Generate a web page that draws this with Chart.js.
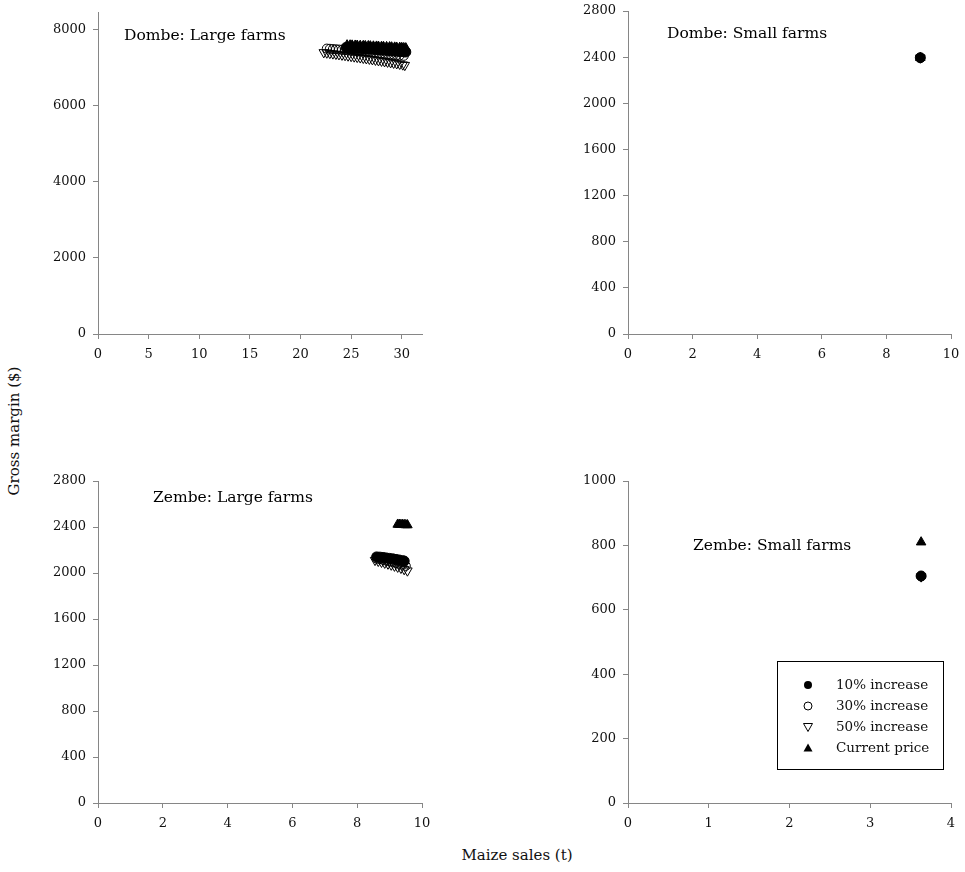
<!DOCTYPE html>
<html>
<head>
<meta charset="utf-8">
<script src="https://cdn.jsdelivr.net/npm/chart.js@4.4.1/dist/chart.umd.min.js"></script>
<style>
  html, body { margin: 0; padding: 0; background: #fff; }
  body { position: relative; width: 965px; height: 872px; overflow: hidden; font-family: "DejaVu Serif", serif; }
  canvas { position: absolute; }
  .axis-title { position: absolute; font-size: 15px; color: #111; white-space: nowrap; }
  #yTitle { left: 14px; top: 431px; transform: translate(-50%, -50%) rotate(-90deg); }
  #xTitle { left: 517px; top: 855px; transform: translate(-50%, -50%); }
</style>
</head>
<body>
<canvas id="dombeLarge" width="394" height="377" style="left:48px;top:-3px"></canvas>
<canvas id="dombeSmall" width="393" height="378" style="left:578px;top:-4px"></canvas>
<canvas id="zembeLarge" width="394" height="377" style="left:48px;top:466px"></canvas>
<canvas id="zembeSmall" width="393" height="377" style="left:578px;top:466px"></canvas>
<div class="axis-title" id="yTitle">Gross margin ($)</div>
<div class="axis-title" id="xTitle">Maize sales (t)</div>
<script>
// Series names (legend order)
const seriesNames = ['10% increase', '30% increase', '50% increase', 'Current price'];

// Axis ticks per panel
const dombeLargeSalesTicks = [0, 5, 10, 15, 20, 25, 30];
const dombeLargeMarginTicks = [0, 2000, 4000, 6000, 8000];
const dombeSmallSalesTicks = [0, 2, 4, 6, 8, 10];
const dombeSmallMarginTicks = [0, 400, 800, 1200, 1600, 2000, 2400, 2800];
const zembeLargeSalesTicks = [0, 2, 4, 6, 8, 10];
const zembeLargeMarginTicks = [0, 400, 800, 1200, 1600, 2000, 2400, 2800];
const zembeSmallSalesTicks = [0, 1, 2, 3, 4];
const zembeSmallMarginTicks = [0, 200, 400, 600, 800, 1000];

// Dombe: large farms
const dombeLarge10Sales = [24.5, 24.8, 25.0, 25.3, 25.5, 25.8, 26.1, 26.3, 26.6, 26.8, 27.1, 27.4, 27.6, 27.9, 28.1, 28.4, 28.7, 28.9, 29.2, 29.4, 29.7, 29.9, 30.2, 30.4];
const dombeLarge10Margin = [7520, 7515, 7510, 7505, 7500, 7495, 7490, 7485, 7480, 7475, 7470, 7465, 7460, 7454, 7449, 7444, 7438, 7433, 7428, 7422, 7416, 7411, 7405, 7400];
const dombeLarge30Sales = [22.6, 22.9, 23.2, 23.5, 23.8, 24.1, 24.4, 24.7, 25.0, 25.3, 25.6, 25.9, 26.2, 26.5, 26.8, 27.1, 27.4, 27.7, 28.0, 28.3, 28.6, 28.9, 29.2, 29.5, 29.8, 30.2];
const dombeLarge30Margin = [7490, 7484, 7478, 7472, 7465, 7458, 7451, 7444, 7437, 7430, 7423, 7416, 7409, 7401, 7394, 7386, 7378, 7370, 7362, 7354, 7346, 7338, 7329, 7320, 7311, 7300];
const dombeLarge50Sales = [22.3, 22.6, 22.9, 23.2, 23.5, 23.8, 24.1, 24.4, 24.7, 25.0, 25.3, 25.6, 25.9, 26.2, 26.5, 26.8, 27.1, 27.4, 27.7, 28.0, 28.3, 28.6, 28.9, 29.2, 29.5, 29.8, 30.1, 30.3];
const dombeLarge50Margin = [7390, 7380, 7369, 7358, 7347, 7336, 7325, 7314, 7302, 7290, 7278, 7266, 7254, 7242, 7230, 7218, 7205, 7192, 7179, 7166, 7153, 7140, 7127, 7113, 7099, 7085, 7068, 7055];
const dombeLargeCurSales = [24.6, 24.9, 25.1, 25.4, 25.6, 25.9, 26.2, 26.4, 26.7, 26.9, 27.2, 27.5, 27.7, 28.0, 28.2, 28.5, 28.8, 29.0, 29.3, 29.5, 29.8, 30.0, 30.2, 30.4];
const dombeLargeCurMargin = [7580, 7578, 7575, 7572, 7570, 7566, 7563, 7560, 7558, 7554, 7550, 7547, 7544, 7540, 7537, 7534, 7530, 7526, 7522, 7519, 7515, 7511, 7507, 7502];

// Dombe: small farms
const dombeSmall10Sales = [9.05];
const dombeSmall10Margin = [2395];
const dombeSmall30Sales = [9.05];
const dombeSmall30Margin = [2395];
const dombeSmall50Sales = [9.05];
const dombeSmall50Margin = [2395];
const dombeSmallCurSales = [9.05];
const dombeSmallCurMargin = [2395];

// Zembe: large farms
const zembeLarge10Sales = [8.6, 8.7, 8.8, 8.9, 9.0, 9.1, 9.2, 9.3, 9.4, 9.45];
const zembeLarge10Margin = [2140, 2138, 2135, 2131, 2127, 2123, 2118, 2113, 2107, 2104];
const zembeLarge30Sales = [8.6, 8.7, 8.8, 8.9, 9.0, 9.1, 9.2, 9.3, 9.4, 9.5];
const zembeLarge30Margin = [2125, 2120, 2114, 2108, 2101, 2094, 2087, 2079, 2071, 2062];
const zembeLarge50Sales = [8.55, 8.65, 8.75, 8.85, 8.95, 9.05, 9.15, 9.25, 9.35, 9.45, 9.55];
const zembeLarge50Margin = [2112, 2104, 2096, 2088, 2080, 2071, 2062, 2053, 2043, 2032, 2020];
const zembeLargeCurSales = [9.25, 9.3, 9.35, 9.4, 9.45, 9.5, 9.55];
const zembeLargeCurMargin = [2422, 2421, 2420, 2420, 2419, 2418, 2417];

// Zembe: small farms
const zembeSmall10Sales = [3.63];
const zembeSmall10Margin = [705];
const zembeSmall30Sales = [3.63];
const zembeSmall30Margin = [704];
const zembeSmall50Sales = [3.63];
const zembeSmall50Margin = [703];
const zembeSmallCurSales = [3.63];
const zembeSmallCurMargin = [810];

const FONT = '"DejaVu Serif", serif';
const AXIS_GRAY = '#868686';
const TEXT = '#111';

// Marker styles: filled circle, open circle, open down-triangle, filled triangle
const markerStyles = [
  { pointStyle: 'circle',   pointRadius: 5,   pointRotation: 0,   pointBackgroundColor: '#000', pointBorderColor: '#000', pointBorderWidth: 1, order: 1 },
  { pointStyle: 'circle',   pointRadius: 4.5, pointRotation: 0,   pointBackgroundColor: 'rgba(0,0,0,0)', pointBorderColor: '#000', pointBorderWidth: 1, order: 2 },
  { pointStyle: 'triangle', pointRadius: 5.5, pointRotation: 180, pointBackgroundColor: 'rgba(0,0,0,0)', pointBorderColor: '#000', pointBorderWidth: 1, order: 3 },
  { pointStyle: 'triangle', pointRadius: 5.5, pointRotation: 0,   pointBackgroundColor: '#000', pointBorderColor: '#000', pointBorderWidth: 1, order: 0 }
];

function toPoints(xs, ys) {
  return xs.map((x, i) => ({ x: x, y: ys[i] }));
}

function buildDatasets(pairs) {
  return pairs.map((p, i) => Object.assign({
    label: seriesNames[i],
    data: toPoints(p[0], p[1]),
    showLine: false
  }, markerStyles[i]));
}

// Panel title drawn inside the plot area
const panelTitle = {
  id: 'panelTitle',
  afterDraw(chart, args, opts) {
    if (!opts || !opts.text) return;
    const ctx = chart.ctx, a = chart.chartArea;
    ctx.save();
    ctx.font = '15.5px ' + FONT;
    ctx.fillStyle = '#000';
    ctx.textBaseline = 'middle';
    ctx.textAlign = 'left';
    ctx.fillText(opts.text, a.left + opts.dx, a.top + opts.dy);
    ctx.restore();
  }
};

// Boxed legend for the series markers
const markerLegend = {
  id: 'markerLegend',
  afterDraw(chart, args, opts) {
    if (!opts || !opts.show) return;
    const ctx = chart.ctx, a = chart.chartArea;
    const bx = a.left + opts.dx, by = a.top + opts.dy;
    ctx.save();
    ctx.strokeStyle = '#000';
    ctx.lineWidth = 1;
    ctx.strokeRect(Math.round(bx) + 0.5, Math.round(by) + 0.5, opts.w, opts.h);
    ctx.font = '13.5px ' + FONT;
    ctx.textBaseline = 'middle';
    ctx.textAlign = 'left';
    const rows = [24, 45, 66, 87];
    seriesNames.forEach((name, i) => {
      const my = by + rows[i];
      const mx = bx + 31;
      ctx.beginPath();
      if (i === 0 || i === 1) {
        ctx.arc(mx, my, 4, 0, Math.PI * 2);
      } else if (i === 2) {
        ctx.moveTo(mx - 4.5, my - 3.5); ctx.lineTo(mx + 4.5, my - 3.5); ctx.lineTo(mx, my + 4.5); ctx.closePath();
      } else {
        ctx.moveTo(mx - 4.5, my + 3.5); ctx.lineTo(mx + 4.5, my + 3.5); ctx.lineTo(mx, my - 4.5); ctx.closePath();
      }
      if (i === 0 || i === 3) { ctx.fillStyle = '#000'; ctx.fill(); }
      else { ctx.strokeStyle = '#000'; ctx.lineWidth = 1; ctx.stroke(); }
      ctx.fillStyle = '#111';
      ctx.fillText(name, bx + 59, my);
    });
    ctx.restore();
  }
};

function axis(pos, max, ticks) {
  const isX = pos === 'bottom';
  return {
    type: 'linear',
    position: pos,
    min: 0,
    max: max,
    afterBuildTicks(scale) { scale.ticks = ticks.map(v => ({ value: v })); },
    afterFit(scale) { if (isX) scale.height = 40; else scale.width = 50; },
    border: { display: true, color: AXIS_GRAY, width: 1 },
    grid: { display: true, drawOnChartArea: false, drawTicks: true, tickLength: 5, color: AXIS_GRAY },
    ticks: {
      color: TEXT,
      font: { family: FONT, size: 13 },
      padding: isX ? 8 : 7,
      autoSkip: false,
      maxRotation: 0,
      callback: v => String(v)
    }
  };
}

function makePanel(id, datasets, xMax, xTicks, yMax, yTicks, title, legend) {
  return new Chart(document.getElementById(id), {
    type: 'scatter',
    data: { datasets: datasets },
    options: {
      responsive: false,
      animation: false,
      devicePixelRatio: 1,
      events: [],
      layout: { padding: { left: 0, right: 20, top: 15, bottom: 0 } },
      scales: { x: axis('bottom', xMax, xTicks), y: axis('left', yMax, yTicks) },
      plugins: {
        legend: { display: false },
        tooltip: { enabled: false },
        panelTitle: title,
        markerLegend: legend || { show: false }
      }
    },
    plugins: [panelTitle, markerLegend]
  });
}

makePanel('dombeLarge', buildDatasets([
  [dombeLarge10Sales, dombeLarge10Margin],
  [dombeLarge30Sales, dombeLarge30Margin],
  [dombeLarge50Sales, dombeLarge50Margin],
  [dombeLargeCurSales, dombeLargeCurMargin]
]), 32, dombeLargeSalesTicks, 8450, dombeLargeMarginTicks,
  { text: 'Dombe: Large farms', dx: 26, dy: 24 });

makePanel('dombeSmall', buildDatasets([
  [dombeSmall10Sales, dombeSmall10Margin],
  [dombeSmall30Sales, dombeSmall30Margin],
  [dombeSmall50Sales, dombeSmall50Margin],
  [dombeSmallCurSales, dombeSmallCurMargin]
]), 10, dombeSmallSalesTicks, 2800, dombeSmallMarginTicks,
  { text: 'Dombe: Small farms', dx: 39, dy: 23 });

makePanel('zembeLarge', buildDatasets([
  [zembeLarge10Sales, zembeLarge10Margin],
  [zembeLarge30Sales, zembeLarge30Margin],
  [zembeLarge50Sales, zembeLarge50Margin],
  [zembeLargeCurSales, zembeLargeCurMargin]
]), 10, zembeLargeSalesTicks, 2800, zembeLargeMarginTicks,
  { text: 'Zembe: Large farms', dx: 55, dy: 17 });

makePanel('zembeSmall', buildDatasets([
  [zembeSmall10Sales, zembeSmall10Margin],
  [zembeSmall30Sales, zembeSmall30Margin],
  [zembeSmall50Sales, zembeSmall50Margin],
  [zembeSmallCurSales, zembeSmallCurMargin]
]), 4, zembeSmallSalesTicks, 1000, zembeSmallMarginTicks,
  { text: 'Zembe: Small farms', dx: 65, dy: 65 },
  { show: true, dx: 149, dy: 180, w: 166, h: 108 });
</script>
</body>
</html>
